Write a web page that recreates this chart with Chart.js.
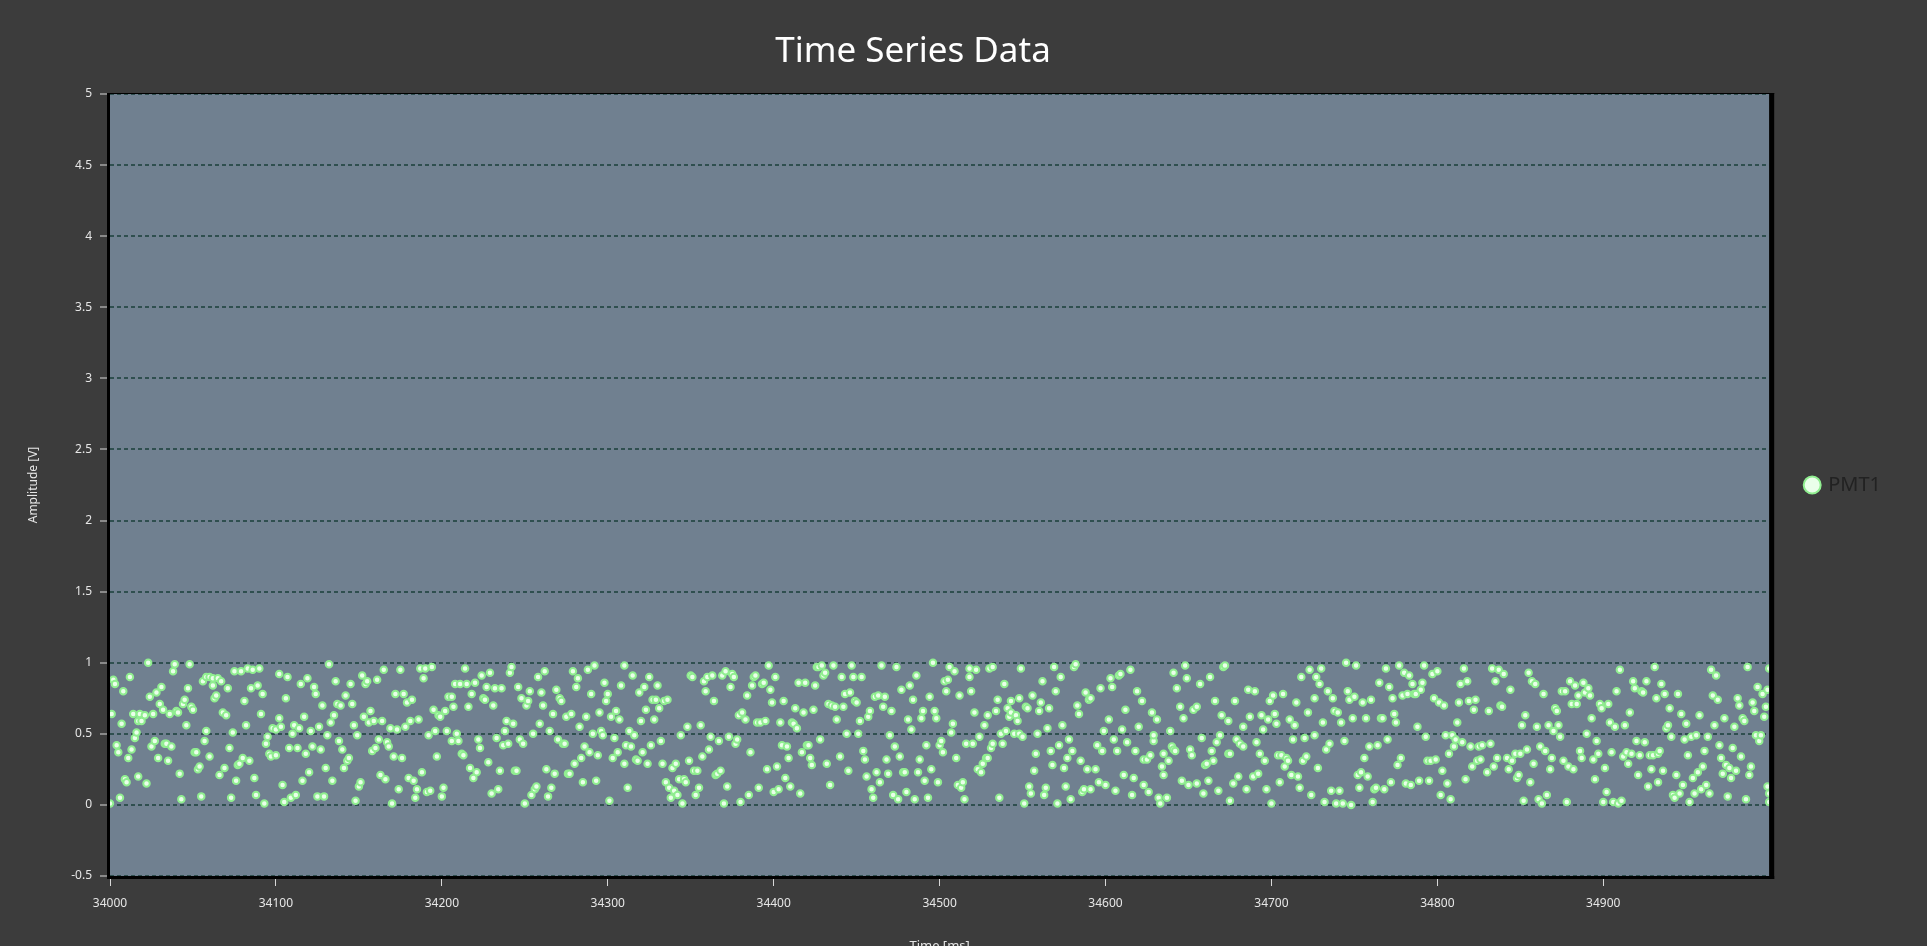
<!DOCTYPE html>
<html>
<head>
<meta charset="utf-8">
<title>Time Series Data</title>
<script src="https://cdn.jsdelivr.net/npm/chart.js@4.4.0/dist/chart.umd.min.js"></script>
<style>
  html, body { margin: 0; padding: 0; overflow: hidden; background: #3c3c3c; }
  #wrap { position: absolute; left: 0; top: 0; width: 1927px; height: 958px; }
  #title {
    position: absolute; left: 0; top: 25px; width: 1826px;
    text-align: center; color: #fff;
    font: 35px "Noto Sans", sans-serif; line-height: 48px;
  }
</style>
</head>
<body>
<div id="wrap"><canvas id="chart" width="1927" height="958"></canvas></div>
<div id="title">Time Series Data</div>
<script>
// --- Data ---
const seriesLabel = 'PMT1';
const xTicks = [34000, 34100, 34200, 34300, 34400, 34500, 34600, 34700, 34800, 34900];
const yTicks = [-0.5, 0, 0.5, 1, 1.5, 2, 2.5, 3, 3.5, 4, 4.5, 5];

// [time ms, amplitude V]
const pmt1Samples = [
  [34000,.01],[34001,.64],[34002,.88],[34003,.85],[34004,.42],[34005,.37],[34006,.05],[34007,.57],[34008,.80],[34009,.18],
  [34010,.16],[34011,.33],[34012,.90],[34013,.39],[34014,.64],[34015,.47],[34016,.51],[34017,.20],[34017,.59],[34018,.64],
  [34019,.59],[34021,.63],[34022,.15],[34023,1.0],[34024,.76],[34025,.41],[34026,.64],[34027,.45],[34028,.79],[34029,.33],
  [34030,.71],[34031,.83],[34032,.67],[34033,.43],[34034,.43],[34035,.31],[34036,.64],[34037,.41],[34038,.94],[34039,.99],
  [34040,.66],[34041,.65],[34042,.22],[34043,.04],[34044,.71],[34045,.74],[34046,.56],[34047,.82],[34048,.99],[34049,.69],
  [34050,.67],[34051,.37],[34052,.37],[34053,.25],[34054,.27],[34055,.06],[34056,.87],[34057,.45],[34058,.52],[34058,.90],
  [34060,.90],[34060,.34],[34062,.89],[34062,.84],[34063,.75],[34064,.77],[34065,.89],[34066,.21],[34067,.87],[34068,.65],
  [34069,.26],[34070,.63],[34071,.82],[34072,.40],[34073,.05],[34074,.51],[34075,.94],[34076,.17],[34077,.28],[34078,.29],
  [34079,.94],[34080,.33],[34081,.73],[34082,.56],[34083,.96],[34084,.31],[34085,.82],[34086,.95],[34087,.19],[34088,.07],
  [34089,.84],[34090,.96],[34091,.64],[34092,.78],[34093,.01],[34094,.43],[34095,.48],[34096,.36],[34097,.34],[34098,.54],
  [34100,.53],[34100,.35],
  [34102,.61],[34102,.92],[34103,.55],[34104,.14],[34105,.02],[34106,.75],[34107,.90],[34108,.40],[34109,.05],[34110,.50],
  [34111,.56],[34112,.07],[34113,.40],[34114,.54],[34115,.85],[34116,.17],[34117,.62],[34118,.36],[34119,.89],[34120,.23],
  [34121,.52],[34122,.41],[34123,.83],[34124,.78],[34125,.06],[34126,.55],[34127,.39],[34128,.70],[34129,.06],[34130,.26],
  [34131,.49],[34132,.99],[34133,.58],[34134,.17],[34135,.63],[34136,.87],[34137,.71],[34138,.45],[34139,.70],[34140,.39],
  [34141,.26],[34142,.77],[34143,.31],[34144,.33],[34145,.85],[34146,.71],[34147,.56],[34148,.03],[34149,.49],[34150,.13],
  [34151,.16],[34152,.91],[34153,.62],[34154,.85],[34155,.87],[34156,.58],[34157,.66],[34158,.38],[34159,.59],[34160,.40],
  [34161,.88],[34162,.46],[34163,.21],[34164,.59],[34165,.95],[34166,.18],[34167,.44],[34168,.41],[34169,.54],[34170,.01],
  [34171,.34],[34172,.78],[34173,.53],[34174,.11],[34175,.95],[34176,.33],[34177,.78],[34178,.55],[34179,.72],[34180,.19],
  [34181,.59],[34182,.74],[34183,.17],[34184,.05],[34185,.11],[34186,.60],[34187,.96],[34188,.23],[34189,.89],[34190,.96],
  [34191,.09],[34192,.49],[34193,.10],[34194,.97],[34195,.67],[34196,.52],[34197,.34],[34198,.63],[34199,.62],[34200,.06],
  [34201,.12],[34202,.66],[34203,.52],[34204,.76],
  [34206,.76],[34206,.45],[34207,.69],[34208,.85],[34209,.50],[34210,.45],[34211,.85],[34212,.36],[34213,.35],[34214,.96],
  [34215,.85],[34216,.69],[34217,.26],[34218,.78],[34219,.19],[34220,.86],[34221,.23],[34222,.46],[34223,.40],[34224,.91],
  [34225,.75],[34226,.74],[34227,.83],[34228,.30],[34229,.93],[34230,.08],[34231,.70],[34232,.82],[34233,.47],[34234,.11],
  [34235,.24],[34236,.82],[34237,.42],[34238,.52],[34239,.59],[34240,.43],[34241,.93],[34242,.97],[34243,.57],[34244,.24],
  [34245,.24],[34246,.83],[34247,.46],[34248,.75],[34249,.43],[34250,.01],[34251,.70],[34252,.73],[34253,.80],[34254,.07],
  [34255,.50],[34256,.11],[34257,.13],[34258,.90],[34259,.57],[34260,.79],[34261,.70],[34262,.94],[34263,.25],[34264,.06],
  [34265,.52],[34266,.12],[34267,.64],[34268,.22],[34269,.81],[34270,.46],[34271,.75],[34272,.73],[34273,.43],[34274,.43],
  [34275,.62],[34276,.22],[34277,.22],[34278,.64],[34279,.94],[34280,.29],[34281,.83],[34282,.89],[34283,.55],[34284,.33],
  [34285,.16],[34286,.41],[34287,.62],[34288,.95],[34289,.37],[34290,.78],[34291,.50],[34292,.98],[34293,.17],[34294,.35],
  [34295,.65],[34296,.52],[34297,.49],[34298,.86],[34299,.73],[34300,.78],[34301,.03],[34302,.62],[34303,.33],[34304,.47],
  [34305,.66],[34306,.37],[34307,.60],[34308,.84],
  [34310,.98],[34310,.29],[34311,.42],[34312,.12],[34313,.52],[34314,.41],[34315,.91],[34316,.49],[34317,.32],[34318,.31],
  [34319,.79],[34320,.59],[34321,.37],[34322,.83],[34323,.67],[34324,.29],[34325,.90],[34326,.42],[34327,.74],[34328,.60],
  [34329,.74],[34330,.84],[34331,.68],[34332,.45],[34333,.29],[34334,.73],[34335,.16],[34336,.74],[34337,.12],[34338,.05],
  [34339,.26],[34340,.10],[34341,.29],[34342,.07],[34343,.18],[34344,.49],[34345,.01],[34346,.18],[34347,.16],[34348,.55],
  [34349,.31],[34350,.91],[34351,.90],[34352,.24],[34353,.07],[34354,.24],[34355,.12],[34356,.56],[34357,.34],[34358,.87],
  [34359,.80],[34360,.90],[34361,.39],[34362,.48],[34363,.91],[34364,.73],[34365,.21],[34366,.22],[34367,.45],[34368,.24],
  [34369,.91],[34370,.01],[34371,.94],[34372,.13],[34373,.48],[34374,.83],[34375,.92],[34376,.90],[34377,.43],[34378,.46],
  [34379,.63],[34380,.02],[34381,.65],[34383,.60],[34384,.77],[34385,.07],[34386,.37],[34387,.84],[34388,.90],[34389,.91],
  [34390,.58],[34391,.12],[34392,.58],[34393,.85],[34394,.86],[34395,.59],[34396,.25],[34397,.98],[34398,.81],[34399,.72],
  [34400,.09],[34401,.90],[34402,.27],[34403,.11],[34404,.58],[34405,.42],[34406,.73],[34407,.19],[34408,.41],[34409,.33],
  [34410,.13],[34411,.58],[34412,.57],
  [34413,.68],[34414,.54],[34415,.86],[34416,.08],[34417,.37],[34418,.65],[34419,.86],[34420,.42],[34421,.42],[34422,.33],
  [34423,.28],[34424,.67],[34425,.84],[34426,.97],[34427,.97],[34428,.46],[34429,.98],[34430,.91],[34431,.93],[34432,.29],
  [34433,.71],[34434,.14],[34435,.70],[34436,.98],[34437,.69],[34438,.60],[34440,.34],[34441,.90],[34442,.69],[34443,.78],
  [34444,.50],[34445,.24],[34446,.79],[34447,.98],[34448,.90],[34449,.73],[34450,.72],[34451,.50],[34452,.59],[34453,.90],
  [34454,.38],[34455,.32],[34456,.20],[34457,.62],[34458,.66],[34459,.11],[34460,.05],[34461,.76],[34462,.23],[34463,.77],
  [34464,.16],[34465,.98],[34466,.69],[34467,.76],[34468,.32],[34469,.22],[34470,.49],[34471,.66],[34472,.07],[34473,.41],
  [34474,.97],[34475,.04],[34476,.34],[34477,.81],[34478,.23],[34479,.23],[34480,.09],[34481,.60],[34482,.84],[34483,.53],
  [34484,.74],[34485,.04],[34486,.91],[34487,.23],[34488,.32],[34489,.61],[34490,.66],[34491,.17],[34492,.42],[34493,.05],
  [34494,.76],[34495,.25],[34496,1.0],[34497,.66],[34498,.61],[34499,.16],[34500,.42],[34501,.45],[34502,.37],[34503,.87],
  [34504,.80],[34505,.88],[34506,.97],[34507,.51],[34508,.57],[34509,.94],[34510,.33],[34511,.14],[34512,.77],[34513,.12],
  [34514,.16],[34515,.04],[34516,.43],
  [34518,.96],[34518,.90],[34519,.80],[34520,.43],[34521,.65],[34522,.95],[34523,.25],[34524,.48],[34525,.23],[34526,.29],
  [34527,.56],[34528,.33],[34529,.63],[34529,.33],[34530,.96],[34531,.40],[34532,.97],[34532,.43],[34534,.66],[34535,.74],
  [34536,.05],[34537,.50],[34538,.43],[34539,.85],[34540,.52],[34541,.68],[34542,.62],[34543,.73],[34543,.65],[34545,.50],
  [34546,.63],[34547,.59],[34548,.75],[34548,.50],[34549,.96],[34550,.48],[34551,.01],[34552,.69],[34553,.68],[34554,.13],
  [34555,.08],[34556,.77],[34557,.24],[34558,.36],[34559,.50],[34560,.66],[34561,.72],[34562,.87],[34563,.07],[34564,.12],
  [34565,.54],[34566,.68],[34567,.38],[34568,.28],[34569,.97],[34570,.80],[34571,.01],[34572,.42],[34573,.90],[34574,.56],
  [34575,.26],[34576,.13],[34577,.33],[34578,.46],[34579,.04],[34580,.38],[34581,.97],[34582,.99],[34583,.70],[34584,.64],
  [34585,.31],[34586,.09],[34587,.11],[34588,.79],[34589,.25],[34590,.74],[34591,.75],[34591,.11],[34594,.25],[34595,.42],
  [34596,.16],[34597,.82],[34598,.38],[34599,.52],[34600,.14],[34602,.60],[34603,.89],[34604,.83],[34605,.46],[34606,.10],
  [34607,.38],[34608,.91],[34609,.92],[34610,.53],[34611,.21],[34612,.67],[34613,.44],[34615,.95],[34616,.07],[34617,.19],
  [34618,.38],[34619,.80],[34620,.55],
  [34622,.73],[34623,.32],[34623,.14],[34625,.32],[34626,.09],[34627,.35],[34628,.65],[34629,.45],[34629,.49],[34631,.60],
  [34632,.05],[34633,.01],[34634,.27],[34635,.36],[34635,.21],[34637,.05],[34638,.31],[34639,.52],[34640,.41],[34641,.93],
  [34641,.39],[34642,.38],[34643,.82],[34645,.69],[34646,.17],[34647,.61],[34648,.98],[34649,.89],[34650,.14],[34651,.39],
  [34652,.35],[34653,.67],[34655,.15],[34655,.69],[34657,.85],[34658,.47],[34659,.08],[34660,.28],[34661,.29],[34662,.17],
  [34663,.90],[34664,.38],[34665,.31],[34666,.73],[34667,.44],[34668,.10],[34669,.49],[34670,.63],[34671,.97],[34672,.98],
  [34674,.36],[34674,.59],[34675,.03],[34675,.36],[34677,.15],[34678,.73],[34679,.46],[34680,.20],[34681,.43],[34683,.41],
  [34683,.55],[34685,.11],[34686,.81],[34687,.62],[34689,.20],[34690,.80],[34691,.44],[34692,.22],[34693,.36],[34694,.63],
  [34695,.53],[34696,.31],[34697,.11],[34698,.60],[34699,.73],[34700,.01],[34701,.77],[34702,.64],[34703,.57],[34704,.35],
  [34705,.16],[34706,.35],[34707,.78],[34708,.27],[34709,.33],[34710,.31],[34711,.60],[34712,.21],[34713,.46],[34714,.56],
  [34715,.72],[34716,.20],[34717,.12],[34718,.90],[34719,.31],[34720,.47],[34721,.34],[34722,.65],[34723,.95],[34724,.07],
  [34726,.75],[34726,.49],[34727,.90],[34728,.26],[34729,.85],[34730,.96],[34731,.58],[34732,.02],[34733,.39],[34734,.80],
  [34735,.43],[34736,.10],[34737,.75],[34738,.66],[34739,.01],[34740,.65],[34741,.10],[34742,.58],[34743,.01],[34744,.45],
  [34745,1.0],[34746,.80],[34747,.74],[34748,.00],[34749,.61],[34750,.76],[34751,.98],[34752,.21],[34753,.12],[34754,.23],
  [34755,.72],[34756,.33],[34757,.61],[34758,.20],[34759,.41],[34760,.74],[34761,.02],[34762,.11],[34763,.12],[34764,.42],
  [34765,.86],[34766,.61],[34767,.61],[34768,.11],[34769,.96],[34770,.46],[34771,.83],[34772,.16],[34773,.75],[34774,.64],
  [34775,.58],[34776,.28],[34777,.98],[34778,.33],[34779,.77],[34780,.93],[34781,.15],[34782,.78],[34783,.91],[34784,.14],
  [34785,.85],[34786,.78],[34787,.78],[34788,.55],[34789,.17],[34790,.81],[34791,.86],[34792,.98],[34793,.48],[34794,.31],
  [34795,.17],[34796,.31],[34797,.92],[34798,.75],[34799,.32],[34800,.94],[34801,.72],[34802,.07],[34803,.24],[34804,.70],
  [34805,.49],[34806,.15],[34807,.36],[34808,.04],[34809,.49],[34810,.41],[34811,.46],[34812,.58],[34813,.72],[34814,.85],
  [34815,.44],[34816,.96],[34817,.18],[34818,.87],[34819,.73],[34820,.41],[34821,.27],[34822,.67],[34823,.74],[34824,.31],
  [34825,.41],[34826,.32],[34827,.42],
  [34830,.23],[34831,.66],[34832,.43],[34833,.96],[34834,.27],[34835,.87],[34836,.33],[34837,.95],[34838,.70],[34839,.69],
  [34840,.92],[34842,.33],[34843,.25],[34844,.81],[34845,.31],[34847,.36],[34848,.19],[34849,.21],[34850,.36],[34851,.56],
  [34852,.03],[34853,.63],[34854,.39],[34855,.93],[34856,.16],[34857,.87],[34858,.29],[34859,.85],[34860,.55],[34861,.04],
  [34862,.41],[34863,.01],[34864,.78],[34865,.38],[34866,.07],[34867,.56],[34868,.25],[34869,.33],[34870,.52],[34871,.68],
  [34872,.66],[34873,.56],[34874,.48],[34875,.80],[34876,.31],[34877,.80],[34878,.02],[34879,.27],[34880,.87],[34881,.71],
  [34882,.25],[34883,.84],[34884,.71],[34885,.77],[34886,.38],[34887,.33],[34888,.86],[34889,.79],[34890,.50],[34891,.82],
  [34892,.77],[34893,.61],[34894,.32],[34895,.18],[34896,.45],[34897,.36],[34898,.71],[34899,.68],[34900,.02],[34901,.26],
  [34902,.09],[34903,.71],[34904,.58],[34905,.37],[34906,.02],[34907,.55],[34908,.80],[34909,.01],[34910,.95],[34911,.03],
  [34912,.34],[34913,.56],[34914,.37],[34915,.29],[34916,.65],[34917,.36],[34918,.87],[34919,.82],[34920,.45],[34921,.21],
  [34922,.35],[34923,.80],[34924,.79],[34925,.44],[34926,.87],[34927,.13],[34928,.35],[34929,.25],[34930,.35],[34931,.97],
  [34932,.75],[34933,.16],
  [34933,.36],[34934,.38],[34935,.85],[34936,.24],[34937,.78],[34938,.54],[34939,.56],[34940,.68],[34941,.48],[34942,.07],
  [34943,.05],[34944,.21],[34945,.78],[34946,.08],[34947,.64],[34948,.14],[34949,.46],[34950,.57],[34951,.35],[34952,.02],
  [34953,.48],[34954,.19],[34955,.08],[34956,.49],[34957,.23],[34958,.63],[34959,.11],[34960,.27],[34961,.38],[34962,.14],
  [34963,.48],[34964,.08],[34965,.95],[34966,.77],[34967,.56],[34968,.91],[34969,.74],[34970,.42],[34971,.33],[34972,.22],
  [34973,.61],[34974,.28],[34975,.06],[34976,.26],[34977,.19],[34978,.40],[34979,.55],[34980,.24],[34981,.75],[34982,.70],
  [34983,.34],[34984,.61],[34985,.59],[34986,.04],[34987,.97],[34988,.21],[34989,.27],[34990,.72],[34991,.66],[34992,.49],
  [34993,.83],[34994,.45],[34995,.49],[34996,.78],[34997,.62],[34998,.69],[34999,.13],[34999,.81],[35000,.08],[35000,.02],
  [35000,.96]
];

const textColor = '#e6e6e6';

// plot area fill + black frame like the original control
const plotFrame = {
  id: 'plotFrame',
  beforeDraw(chart) {
    const { ctx, chartArea: a } = chart;
    ctx.save();
    ctx.fillStyle = '#708090';
    ctx.fillRect(a.left, a.top, a.right - a.left, a.bottom - a.top);
    ctx.restore();
  },
  afterDraw(chart) {
    const { ctx, chartArea: a } = chart;
    ctx.save();
    ctx.fillStyle = '#000';
    ctx.fillRect(a.left - 3, a.top - 1, 3, a.bottom - a.top + 4);
    ctx.fillRect(a.left - 3, a.bottom, a.right - a.left + 8, 3);
    ctx.fillRect(a.right, a.top - 1, 5, a.bottom - a.top + 4);
    ctx.fillRect(a.left - 3, a.top - 1, a.right - a.left + 8, 1);
    ctx.restore();
  }
};

Chart.defaults.font.family = '"Noto Sans", sans-serif';

new Chart(document.getElementById('chart'), {
  type: 'scatter',
  data: {
    datasets: [{
      label: seriesLabel,
      data: pmt1Samples.map(([t, v]) => ({ x: t, y: v })),
      pointStyle: 'circle',
      pointRadius: 3.25,
      pointBorderWidth: 2,
      pointBackgroundColor: '#eaffea',
      pointBorderColor: '#90ee90',
      backgroundColor: '#eaffea',
      borderColor: '#90ee90',
    }],
  },
  options: {
    responsive: false,
    animation: false,
    layout: { padding: { left: 20, right: 36, top: 94, bottom: 0 } },
    plugins: {
      title: { display: false },
      tooltip: { enabled: false },
      legend: {
        position: 'right',
        align: 'center',
        fullSize: false,
        labels: {
          usePointStyle: true,
          boxWidth: 12,
          boxHeight: 12,
          padding: 37,
          color: '#222',
          font: { size: 20 },
        },
      },
    },
    scales: {
      x: {
        type: 'linear',
        min: 34000,
        max: 35000,
        afterBuildTicks: s => { s.ticks = xTicks.map(v => ({ value: v })); },
        ticks: { color: textColor, font: { size: 12 }, padding: 10, maxRotation: 0, autoSkip: false, callback: v => String(v) },
        grid: { drawOnChartArea: false, tickColor: '#d8d8d8', tickLength: 10, tickWidth: 1 },
        border: { display: false },
        title: { display: true, text: 'Time [ms]', color: textColor, font: { size: 13 }, padding: { top: 18, bottom: 4 } },
      },
      y: {
        min: -0.5,
        max: 5,
        afterBuildTicks: s => { s.ticks = yTicks.map(v => ({ value: v })); },
        afterFit: s => { s.width = 90; },
        ticks: { color: textColor, font: { size: 12 }, padding: 8, callback: v => String(v) },
        grid: { color: '#2f4f4f', lineWidth: 2, tickColor: '#d8d8d8', tickLength: 10, tickWidth: 1, tickBorderDash: [1, 0] },
        border: { display: false, dash: [4, 3] },
        title: { display: true, text: 'Amplitude [V]', color: textColor, font: { size: 12 }, padding: { top: 6, bottom: 0 } },
      },
    },
  },
  plugins: [plotFrame],
});
</script>
</body>
</html>
